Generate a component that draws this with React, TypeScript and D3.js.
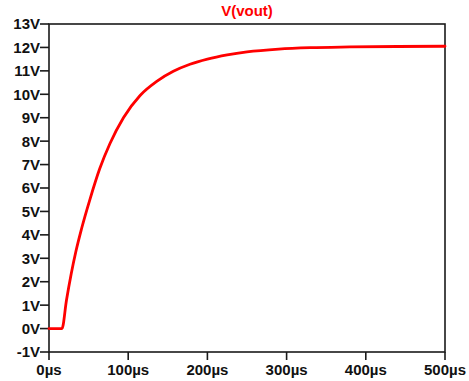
import * as d3 from 'd3';

// values (time in µs, volts)
const timeUs = [0, 16.4, 22, 28, 34, 41, 52, 64, 77, 94, 115, 136, 157, 178, 200, 225, 250, 290, 330, 380, 440, 500];
const voltage = [0, 0, 1.2, 2.33, 3.3, 4.25, 5.55, 6.82, 7.9, 9.0, 9.95, 10.55, 10.98, 11.28, 11.5, 11.68, 11.81, 11.93, 11.99, 12.02, 12.04, 12.05];

const yTicks = [-1, 0, 1, 2, 3, 4, 5, 6, 7, 8, 9, 10, 11, 12, 13];
const xTicks = [0, 100, 200, 300, 400, 500];
const title = 'V(vout)';

const width = 469;
const height = 381;
const margin = { top: 24, right: 24, bottom: 29, left: 49 };
const font = '"Liberation Sans", Arial, sans-serif';

export default function App() {
  const innerW = width - margin.left - margin.right;
  const innerH = height - margin.top - margin.bottom;

  const x = d3.scaleLinear().domain([0, 500]).range([0, innerW]);
  const y = d3.scaleLinear().domain([-1, 13]).range([innerH, 0]);

  const points = timeUs.map((t, i) => [t, voltage[i]] as [number, number]);
  const line = d3.line<[number, number]>()
    .x(d => x(d[0]))
    .y(d => y(d[1]))
    .curve(d3.curveMonotoneX);

  return (
    <svg width={width} height={height} style={{ position: 'absolute', left: 0, top: 0, background: '#fff' }}>
      <g transform={`translate(${margin.left},${margin.top})`}>
        <text x={innerW / 2} y={-8} textAnchor="middle" fill="#ff0000"
          fontFamily={font} fontSize={15} fontWeight="bold">{title}</text>

        {/* frame */}
        <rect x={0} y={0} width={innerW} height={innerH} fill="none" stroke="#1a1a1a" strokeWidth={1.6} />

        {yTicks.map(v => (
          <g key={v} transform={`translate(0,${y(v)})`}>
            <line x1={-9} x2={0} stroke="#1a1a1a" strokeWidth={1.6} />
            <text x={-9} dy="0.36em" textAnchor="end" fill="#111"
              fontFamily={font} fontSize={15} fontWeight="bold">{`${v}V`}</text>
          </g>
        ))}

        {xTicks.map(t => (
          <g key={t} transform={`translate(${x(t)},${innerH})`}>
            <line y1={0} y2={8} stroke="#1a1a1a" strokeWidth={1.6} />
            <text y={23} textAnchor="middle" fill="#111"
              fontFamily={font} fontSize={15} fontWeight="bold">{`${t}µs`}</text>
          </g>
        ))}

        <path d={line(points) ?? ''} fill="none" stroke="#ff0000" strokeWidth={2.8}
          strokeLinejoin="round" strokeLinecap="round" />
      </g>
    </svg>
  );
}
